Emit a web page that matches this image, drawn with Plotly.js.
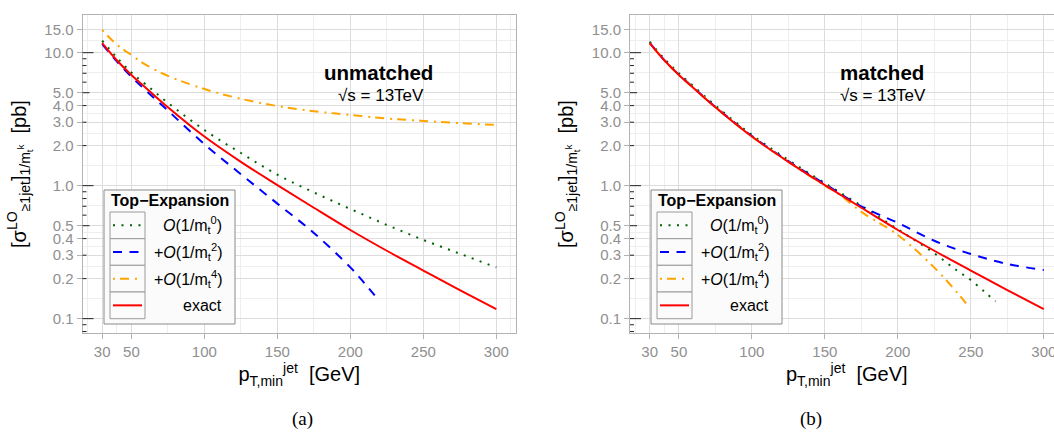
<!DOCTYPE html>
<html><head><meta charset="utf-8">
<script src="https://cdn.plot.ly/plotly-3.0.1.min.js"></script>
<style>html,body{margin:0;padding:0;overflow:hidden;background:#fff;width:1054px;height:444px}</style>
</head><body><div id="chart" style="width:1080px;height:444px"></div>
<script>
const W = 1080, H = 444;

// ---- data ----
const ptExact = [30,40,50,60,75,100,125,150,175,200,225,250,275,300];
const exact   = [11.8,8.77,6.8,5.43,3.89,2.34,1.51,1.01,0.682,0.464,0.324,0.230,0.164,0.118];

// panel (a): unmatched
const ptUn0 = [30,40,50,60,75,100,125,150,175,200,225,250,275,300];
const un0   = [12.3,9.2,7.1,5.75,4.2,2.62,1.76,1.21,0.89,0.668,0.507,0.391,0.308,0.243];
const ptUn2 = [30,40,50,60,75,100,125,150,175,200,210,220];
const un2   = [11.6,8.6,6.6,5.19,3.67,2.05,1.22,0.733,0.441,0.243,0.183,0.135];
const ptUn4 = [30,40,50,60,75,100,125,150,175,200,225,250,275,300];
const un4   = [14.8,11.5,9.6,8.1,6.7,5.33,4.5,3.97,3.63,3.40,3.2,3.07,2.95,2.86];

// panel (b): matched
const ptM0 = [30,40,50,60,75,100,125,150,175,200,225,240,250,260,267];
const m0   = [12.1,9.0,7.0,5.6,4.0,2.41,1.56,1.045,0.705,0.47,0.31,0.232,0.195,0.157,0.135];
const ptM2 = [30,40,50,60,75,100,125,150,175,200,225,250,275,300];
const m2   = [11.85,8.8,6.83,5.46,3.91,2.36,1.53,1.03,0.70,0.525,0.385,0.306,0.258,0.232];
const ptM4 = [30,40,50,60,75,100,125,150,160,175,200,225,240,248];
const m4   = [11.8,8.77,6.8,5.43,3.89,2.34,1.51,1.0,0.86,0.635,0.426,0.242,0.16,0.125];

const yTickVals = [0.1,0.2,0.3,0.4,0.5,1,2,3,4,5,10,15];
const yTickText = ['0.1','0.2','0.3','0.4','0.5','1.0','2.0','3.0','4.0','5.0','10.0','15.0'];
const xTickVals = [30,50,100,150,200,250,300];
const xMinorVals = [20,40,75,125,175,225,275,310];
const logTickVals = [0.08,0.09,0.1,0.2,0.3,0.4,0.5,0.6,0.7,0.8,0.9,1,2,3,4,5,6,7,8,9,10];

const seriesNames = ['O(1/m_t^0)','+O(1/m_t^2)','+O(1/m_t^4)','exact'];
const legendLabels = ['<i>O</i>(1/m<sub>t</sub><sup>0</sup>)','+<i>O</i>(1/m<sub>t</sub><sup>2</sup>)','+<i>O</i>(1/m<sub>t</sub><sup>4</sup>)','exact'];
const colors = ['#006400','#0000ff','#ffa500','#ff0000'];
const dashes = ['2px,6.5px','9px,7.5px','2px,5px,9px,6px','solid'];
const widths = [2,2,2,2];

// ---- styling ----
const FONT = 'Liberation Sans, Arial, sans-serif';
const TICKC = '#8f8f8f';
const yMinorVals = yTickVals.slice(0,-1).map((v,i)=>Math.sqrt(v*yTickVals[i+1]));

function xaxis(d0,d1,anchor){
  return {domain:[d0/W,d1/W], anchor:anchor, range:[16.5,313.5], type:'linear',
    tickvals:xTickVals, ticktext:xTickVals.map(String), ticks:'outside', ticklen:5, tickcolor:'#b3b3b3',
    tickfont:{family:FONT,size:15,color:TICKC},
    showgrid:true, gridcolor:'#dcdcdc', gridwidth:1, zeroline:false,
    minor:{tickvals:xMinorVals, showgrid:true, gridcolor:'#eeeeee', gridwidth:1, ticks:''},
    showline:true, linecolor:'#b3b3b3', linewidth:1, mirror:true,
    title:{text:'p<sub>T,min</sub><sup>jet</sup>  [GeV]', font:{family:FONT,size:20,color:'#000'}, standoff:1}};
}
function yaxis(anchor){
  return {domain:[1-333/H,1-15/H], anchor:anchor, type:'log', range:[Math.log10(0.078),Math.log10(19.2)],
    tickvals:yTickVals, ticktext:yTickText, ticks:'outside', ticklen:5, tickcolor:'#b3b3b3',
    tickfont:{family:FONT,size:15,color:TICKC},
    showgrid:true, gridcolor:'#dcdcdc', gridwidth:1, zeroline:false,
    minor:{tickvals:yMinorVals, showgrid:true, gridcolor:'#eeeeee', gridwidth:1, ticks:''},
    showline:true, linecolor:'#b3b3b3', linewidth:1, mirror:true,
    title:{text:'[σ<sup>LO</sup><sub>≥1jet</sub>]<sub>1/m<sub>t</sub><sup>k</sup></sub>  [pb]', font:{family:FONT,size:20,color:'#000'}, standoff:12}};
}

function tr(x,y,i,xa,ya){
  return {x:x,y:y,type:'scatter',mode:'lines',name:seriesNames[i],xaxis:xa,yaxis:ya,
    line:{color:colors[i],width:widths[i],dash:dashes[i],shape:'spline',smoothing:1},hoverinfo:'skip'};
}
const data = [
  tr(ptUn0,un0,0,'x','y'), tr(ptUn2,un2,1,'x','y'), tr(ptUn4,un4,2,'x','y'), tr(ptExact,exact,3,'x','y'),
  tr(ptM0,m0,0,'x2','y2'), tr(ptM2,m2,1,'x2','y2'), tr(ptM4,m4,2,'x2','y2'), tr(ptExact,exact,3,'x2','y2')
];

const px = v => v/W, py = v => 1 - v/H;
const shapes = [], annotations = [];

// annotation_logticks on left side of each panel
['x','x2'].forEach((xa,k)=>{
  const ya = k===0 ? 'y' : 'y2';
  logTickVals.forEach(v=>{
    const f = Math.log10(v) - Math.floor(Math.log10(v) + 1e-9);
    const kind = Math.abs(f) < 1e-6 ? 'L' : (Math.abs(f - Math.log10(5)) < 1e-6 ? 'M' : 'S');
    const len = kind==='L' ? 11 : (kind==='M' ? 7 : 4);
    shapes.push({type:'line', xref:xa+' domain', yref:ya, x0:0, x1:len/433.5, y0:v, y1:v, line:{color:'#222',width:1}, layer:'above'});
  });
});

// legends (one per panel)
[0,547].forEach(off=>{
  shapes.push({type:'rect', xref:'paper', yref:'paper', x0:px(104+off), x1:px(235+off), y0:py(324), y1:py(190),
    line:{color:'#8a8a8a',width:1}, fillcolor:'#fbfbfb', layer:'above'});
  annotations.push({xref:'paper', yref:'paper', x:px(109+off), y:py(201), xanchor:'left', yanchor:'middle', showarrow:false,
    text:'<b>Top−Expansion</b>', font:{family:FONT,size:16,color:'#000'}});
  const rows = [212,238.7,265.3,292,318.7];
  for(let i=0;i<4;i++){
    shapes.push({type:'rect', xref:'paper', yref:'paper', x0:px(110+off), x1:px(145+off), y0:py(rows[i+1]), y1:py(rows[i]),
      line:{color:'#9a9a9a',width:1}, fillcolor:'#fbfbfb', layer:'above'});
    const cy = (rows[i]+rows[i+1])/2;
    shapes.push({type:'line', xref:'paper', yref:'paper', x0:px(113+off), x1:px(142+off), y0:py(cy), y1:py(cy),
      line:{color:colors[i],width:widths[i],dash:dashes[i]}, layer:'above'});
    annotations.push({xref:'paper', yref:'paper', x:px(224+off), y:py(cy), xanchor:'right', yanchor:'middle', showarrow:false,
      text:legendLabels[i], font:{family:FONT,size:16,color:'#000'}});
  }
});

// panel labels
annotations.push({xref:'paper',yref:'paper',x:px(378),y:py(59),showarrow:false,text:'<b>unmatched</b>',font:{family:FONT,size:20.5,color:'#000'}});
annotations.push({xref:'paper',yref:'paper',x:px(381),y:py(84),showarrow:false,text:'√s = 13TeV',font:{family:FONT,size:17,color:'#000'}});
annotations.push({xref:'paper',yref:'paper',x:px(926),y:py(59),showarrow:false,text:'<b>matched</b>',font:{family:FONT,size:20.5,color:'#000'}});
annotations.push({xref:'paper',yref:'paper',x:px(928),y:py(84),showarrow:false,text:'√s = 13TeV',font:{family:FONT,size:17,color:'#000'}});
// captions
annotations.push({xref:'paper',yref:'paper',x:px(290),y:py(432),showarrow:false,text:'(a)',font:{family:'Liberation Serif, DejaVu Serif, serif',size:19,color:'#000'}});
annotations.push({xref:'paper',yref:'paper',x:px(824),y:py(432),showarrow:false,text:'(b)',font:{family:'Liberation Serif, DejaVu Serif, serif',size:19,color:'#000'}});

const layout = {
  width:W, height:H, margin:{l:0,r:0,t:0,b:0}, paper_bgcolor:'#fff', plot_bgcolor:'#fff', showlegend:false,
  font:{family:FONT},
  xaxis: xaxis(82.5,516,'y'), yaxis: yaxis('x'),
  xaxis2: xaxis(630,1063.5,'y2'), yaxis2: yaxis('x2'),
  shapes:shapes, annotations:annotations
};
Plotly.newPlot('chart', data, layout, {staticPlot:true, displayModeBar:false});
</script></body></html>
